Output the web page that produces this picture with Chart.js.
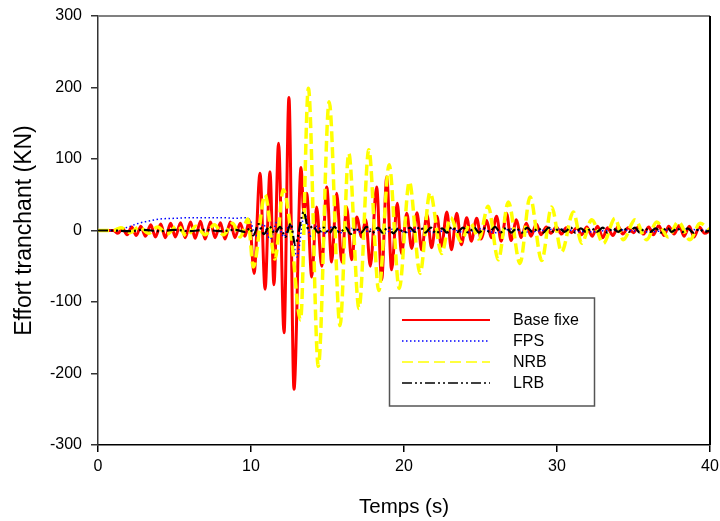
<!DOCTYPE html>
<html>
<head>
<meta charset="utf-8">
<script src="https://cdn.jsdelivr.net/npm/chart.js@4"></script>
<style>
  html, body { margin: 0; padding: 0; background: #fff; }
</style>
</head>
<body>
<canvas id="chart" width="720" height="521"></canvas>
<script>
// series names as shown in the key
const seriesNames = ['Base fixe', 'FPS', 'NRB', 'LRB'];
const xTicks = [0, 10, 20, 30, 40];
const yTicks = [-300, -200, -100, 0, 100, 200, 300];

// [time (s), shear force (KN)]
const baseFixe = [
  [0, 0], [1.0, 0], [1.3, -4], [1.6, 3], [1.9, -6], [2.2, 5], [2.5, -7], [2.8, 6], [3.1, -8], [3.45, 8],
  [3.75, -9], [4.1, 9], [4.4, -10], [4.75, 10], [5.05, -9], [5.4, 11], [5.7, -10], [6.05, 12], [6.35, -11],
  [6.7, 13], [7.0, -12], [7.35, 12], [7.65, -10], [8.0, 11], [8.3, -12], [8.65, 12], [8.95, -10], [9.3, 10],
  [9.6, -8], [9.9, 14],
  [10.2, -60], [10.59, 80], [10.92, -82], [11.24, 82], [11.5, -76], [11.8, 122], [12.16, -143], [12.48, 186],
  [12.81, -222], [13.27, 88], [13.45, 25], [13.64, 52], [13.97, -65], [14.29, 33], [14.62, -50], [14.95, 61],
  [15.27, -44], [15.6, 52], [15.93, -44], [16.25, 33], [16.58, -41], [16.91, 19], [17.23, -9], [17.5, 15],
  [17.8, -50], [18.21, 61], [18.54, -69], [18.87, 75], [19.19, -55], [19.56, 38], [19.84, -32], [20.18, 24],
  [20.5, -25], [20.85, 25], [21.15, -27], [21.5, 22], [21.8, -24], [22.15, 20], [22.45, -22], [22.8, 26],
  [23.1, -27], [23.45, 24], [23.75, -20], [24.1, 18], [24.4, -15], [24.75, 17], [25.05, -12], [25.4, 14],
  [25.7, -10], [26.05, 20], [26.35, -15], [26.7, 24], [27.0, -14], [27.35, 15], [27.65, -10], [28.0, 10],
  [28.3, -8], [28.65, 9], [28.95, -6], [29.3, 5], [29.6, -4], [29.95, 5], [30.3, -5], [30.6, 4], [30.95, -3],
  [31.3, 4], [31.6, -6], [31.95, 5], [32.3, -8], [32.65, 6], [33.0, -10], [33.3, 4], [33.65, -7], [34.0, 6],
  [34.3, -5], [34.65, 4], [35.0, -3], [35.3, 5], [35.65, -5], [36.0, 5], [36.3, -6], [36.65, 7], [37.0, -7],
  [37.3, 6], [37.65, -5], [38.0, 7], [38.3, -8], [38.65, 6], [38.95, -9], [39.3, 5], [39.65, -4], [40, 0]
];

const fps = [
  [0, 0], [1.0, 0], [1.5, 2], [2.0, 5], [2.5, 9], [3.0, 12], [3.5, 14], [4.0, 16], [5.0, 17], [6.0, 18],
  [7.0, 18], [8.0, 18], [9.0, 17], [9.6, 18], [9.95, 14], [10.3, -8], [10.8, 9], [11.25, -12], [11.7, 12],
  [12.15, -9], [12.55, 10], [13.0, -37], [13.5, 24], [13.9, -8], [14.3, 6], [14.8, -4], [15.3, 5], [15.9, -3],
  [16.6, 3], [17.3, -3], [18.0, 3], [18.7, -4], [19.4, 3], [20.1, -3], [21.0, 3], [22.0, -3], [23.0, 2],
  [24.0, -3], [25.0, 2], [26.0, -3], [27.0, 2], [28.0, -2], [30.0, 2], [32.0, -2], [34.0, 1], [36.0, -2],
  [38.0, 2], [40, 0]
];

const nrb = [
  [0, 0], [1.0, 0], [1.5, 4], [2.1, -3], [2.7, 5], [3.3, -4], [3.9, 5], [4.5, -5], [5.2, 7], [5.8, -8],
  [6.4, 6], [7.0, -6], [7.6, 8], [8.2, -6], [8.8, 10], [9.3, -9], [9.8, 16], [10.15, -51], [10.92, 50],
  [11.57, -40], [12.11, 57], [12.6, 0], [13.24, -125], [13.75, 199], [14.4, -190], [15.11, 180], [15.82, -133],
  [16.39, 108], [17.06, -109], [17.7, 113], [18.35, -84], [19.03, 92], [19.69, -81], [20.35, 68], [21.05, -60],
  [21.7, 53], [22.46, -32], [23.05, 18], [23.7, -15], [24.35, 10], [24.9, -12], [25.5, 34], [26.16, -41],
  [26.82, 40], [27.58, -46], [28.24, 47], [29.0, -42], [29.65, 33], [30.3, -30], [31.07, 26], [31.61, -18],
  [32.27, 15], [33.03, -18], [33.79, 17], [34.33, -13], [35.1, 15], [35.86, -13], [36.52, 12], [37.27, -9],
  [37.93, 12], [38.69, -13], [39.35, 10], [40, 0]
];

const lrb = [
  [0, 0], [1.0, 0], [2.0, -1], [3.0, 1], [4.0, -1], [5.0, 1], [6.0, -1], [7.0, 1], [8.0, -1], [9.0, 1],
  [9.6, -2], [9.95, 3], [10.15, -7], [10.5, 9], [10.85, -5], [11.2, 6], [11.55, -4], [11.9, 5], [12.25, -9],
  [12.6, 10], [12.88, -20], [13.45, 26], [13.75, 2], [14.05, 6], [14.4, -3], [14.75, 4], [15.1, -4], [15.45, 5],
  [15.8, -3], [16.2, 4], [16.5, -5], [16.85, 3], [17.2, -3], [17.55, 5], [17.9, -4], [18.3, 4], [18.6, -3],
  [18.95, 5], [19.3, -4], [19.65, 3], [20.0, -3], [20.4, 4], [20.7, -2], [21.05, 5], [21.4, -3], [21.75, 4],
  [22.1, -4], [22.5, 3], [22.8, -3], [23.15, 5], [23.5, -2], [23.85, 4], [24.2, -3], [24.6, 4], [24.9, -3],
  [25.25, 3], [25.6, -2], [25.95, 5], [26.3, -3], [26.7, 4], [27.0, -3], [27.35, 3], [27.7, -3], [28.05, 4],
  [28.4, -2], [28.8, 3], [29.1, -3], [29.45, 4], [29.8, -2], [30.15, 3], [30.5, -2], [30.9, 4], [31.2, -3],
  [31.55, 3], [31.9, -2], [32.25, 3], [32.6, -2], [33.0, 4], [33.3, -3], [33.65, 3], [34.0, -2], [34.35, 3],
  [34.7, -2], [35.1, 4], [35.4, -3], [35.75, 3], [36.1, -2], [36.45, 3], [36.8, -3], [37.2, 4], [37.5, -2],
  [37.85, 3], [38.2, -2], [38.55, 3], [38.9, -3], [39.3, 2], [39.6, -2], [40, 0]
];

const toPoints = pairs => pairs.map(([x, y]) => ({ x, y }));
const font = 'Arial, "Liberation Sans", sans-serif';

// gray top edge, black right edge and the boxed key inside the plot
const frameAndKey = {
  id: 'frameAndKey',
  afterDraw(chart) {
    const { ctx, chartArea: a } = chart;
    ctx.save();
    ctx.lineWidth = 2;
    ctx.strokeStyle = '#808080';
    ctx.beginPath(); ctx.moveTo(a.left, a.top); ctx.lineTo(a.right, a.top); ctx.stroke();
    ctx.strokeStyle = '#000';
    ctx.beginPath(); ctx.moveTo(a.right, a.top); ctx.lineTo(a.right, a.bottom); ctx.stroke();

    ctx.fillStyle = '#fff';
    ctx.fillRect(389.5, 298, 205, 108);
    ctx.lineWidth = 1.5;
    ctx.strokeStyle = '#555';
    ctx.strokeRect(389.5, 298, 205, 108);

    const styles = chart.data.datasets;
    const rows = [320, 341, 362, 383];
    ctx.font = '16px ' + font;
    ctx.textBaseline = 'middle';
    styles.forEach((ds, i) => {
      ctx.strokeStyle = ds.borderColor;
      ctx.lineWidth = i === 0 ? 2 : 1.5;
      ctx.setLineDash(ds.borderDash || []);
      ctx.beginPath(); ctx.moveTo(402, rows[i]); ctx.lineTo(490, rows[i]); ctx.stroke();
      ctx.setLineDash([]);
      ctx.fillStyle = '#000';
      ctx.fillText(ds.label, 513, rows[i] + 1);
    });
    ctx.restore();
  }
};

const lineDefaults = { pointRadius: 0, fill: false, cubicInterpolationMode: 'monotone' };

new Chart(document.getElementById('chart'), {
  type: 'line',
  data: {
    datasets: [
      { ...lineDefaults, label: seriesNames[0], data: toPoints(baseFixe), borderColor: '#ff0000', borderWidth: 3, order: 3 },
      { ...lineDefaults, label: seriesNames[1], data: toPoints(fps), borderColor: '#0000ff', borderWidth: 1.5, borderDash: [1.5, 2.5], order: 2 },
      { ...lineDefaults, label: seriesNames[2], data: toPoints(nrb), borderColor: '#ffff00', borderWidth: 3.5, borderDash: [11, 5], order: 1 },
      { ...lineDefaults, label: seriesNames[3], data: toPoints(lrb), borderColor: '#000000', borderWidth: 2.2, borderDash: [10, 3, 2, 3, 2, 3], order: 0 }
    ]
  },
  options: {
    responsive: false,
    animation: false,
    layout: { padding: { top: 16, right: 10, left: 0, bottom: 0 } },
    plugins: { legend: { display: false }, tooltip: { enabled: false } },
    scales: {
      x: {
        type: 'linear', min: 0, max: 40,
        afterBuildTicks: s => { s.ticks = xTicks.map(v => ({ value: v })); },
        afterFit: s => { s.height = 76; s.paddingLeft = 0; s.paddingRight = 0; },
        border: { color: '#000', width: 1.5 },
        grid: { drawOnChartArea: false, tickLength: 7, color: '#000', lineWidth: 1.5 },
        ticks: { font: { family: font, size: 16 }, color: '#000', padding: 5, maxRotation: 0 },
        title: { display: true, text: 'Temps (s)', color: '#000', font: { family: font, size: 20.5 }, padding: { top: 0, bottom: 1.7 } }
      },
      y: {
        type: 'linear', min: -300, max: 300,
        afterBuildTicks: s => { s.ticks = yTicks.map(v => ({ value: v })); },
        afterFit: s => { s.width = 98; s.paddingTop = 0; s.paddingBottom = 0; },
        border: { color: '#333', width: 1.5 },
        grid: { drawOnChartArea: false, tickLength: 7, color: '#333', lineWidth: 1.5 },
        ticks: { font: { family: font, size: 16 }, color: '#000', padding: 9 },
        title: { display: true, text: 'Effort tranchant (KN)', color: '#000', font: { family: font, size: 23 }, padding: { top: 11, bottom: 0 } }
      }
    }
  },
  plugins: [frameAndKey]
});
</script>
</body>
</html>
